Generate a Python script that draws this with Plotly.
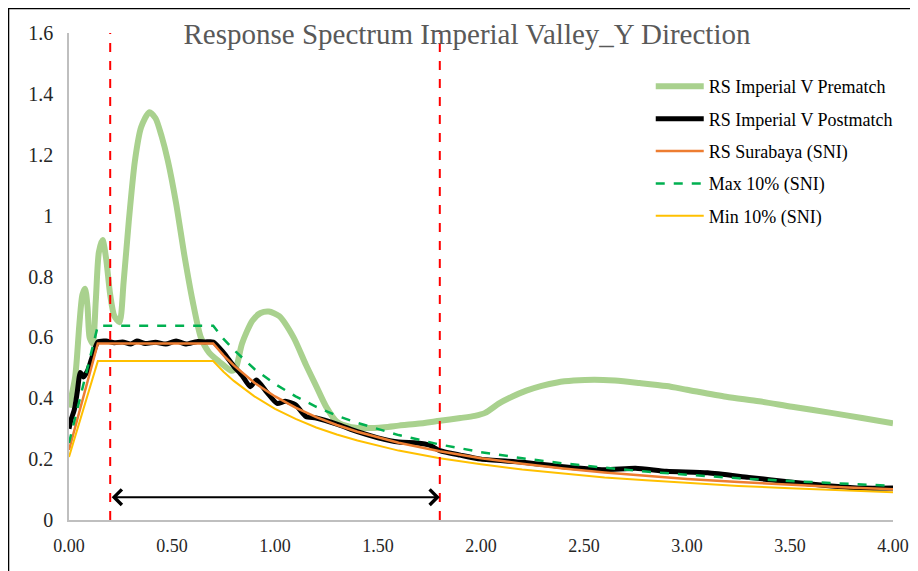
import plotly.graph_objects as go

# ---------------- data ----------------
T_PRE = [0.0, 0.03, 0.05, 0.065, 0.078, 0.09, 0.1, 0.115, 0.13, 0.145, 0.163, 0.18, 0.2, 0.22,
         0.245, 0.265, 0.29, 0.32, 0.35, 0.39, 0.42, 0.45, 0.48, 0.52, 0.56, 0.6, 0.64, 0.68,
         0.73, 0.79, 0.81, 0.84, 0.89, 0.93, 0.97, 1.02, 1.09, 1.15, 1.20, 1.25, 1.30, 1.37,
         1.45, 1.53, 1.6, 1.69, 1.8, 1.9, 1.97, 2.02, 2.09, 2.15, 2.22, 2.29, 2.37, 2.45, 2.55,
         2.65, 2.77, 2.9, 3.0, 3.19, 3.35, 3.51, 3.7, 3.85, 4.0]
SA_PRE = [0.37, 0.47, 0.64, 0.74, 0.76, 0.70, 0.60, 0.58, 0.72, 0.88, 0.92, 0.86, 0.74, 0.67,
          0.65, 0.78, 0.98, 1.18, 1.29, 1.34, 1.32, 1.26, 1.18, 1.04, 0.87, 0.72, 0.60, 0.55,
          0.52, 0.49, 0.50, 0.58, 0.655, 0.68, 0.685, 0.67, 0.60, 0.51, 0.44, 0.37, 0.323, 0.305,
          0.302, 0.305, 0.31, 0.316, 0.326, 0.335, 0.342, 0.352, 0.384, 0.405, 0.425, 0.44, 0.452,
          0.458, 0.461, 0.458, 0.45, 0.44, 0.428, 0.405, 0.39, 0.372, 0.352, 0.335, 0.318]

T_POST = [0.0, 0.01, 0.025, 0.04, 0.055, 0.07, 0.09, 0.11, 0.14, 0.18, 0.22, 0.26, 0.3, 0.33,
          0.37, 0.42, 0.47, 0.52, 0.57, 0.62, 0.66, 0.7, 0.75, 0.8, 0.84, 0.88, 0.91, 0.96, 1.01,
          1.05, 1.1, 1.15, 1.2, 1.3, 1.4, 1.5, 1.6, 1.69, 1.75, 1.8, 1.9, 2.0, 2.2, 2.4, 2.6,
          2.75, 2.9, 3.1, 3.3, 3.5, 3.7, 3.85, 4.0]
SA_POST = [0.30, 0.33, 0.36, 0.42, 0.485, 0.47, 0.49, 0.53, 0.585, 0.588, 0.582, 0.585, 0.578,
           0.588, 0.58, 0.584, 0.578, 0.588, 0.578, 0.586, 0.585, 0.585, 0.55, 0.505, 0.475,
           0.438, 0.46, 0.42, 0.383, 0.39, 0.378, 0.34, 0.335, 0.315, 0.29, 0.27, 0.256, 0.253,
           0.246, 0.228, 0.213, 0.2, 0.19, 0.175, 0.165, 0.17, 0.16, 0.155, 0.14, 0.125, 0.112,
           0.105, 0.105]

T_SNI = [0.0, 0.14, 0.7, 0.75, 0.8, 0.9, 1.0, 1.1, 1.2, 1.3, 1.4, 1.5, 1.6, 1.8, 2.0, 2.2,
         2.4, 2.6, 2.8, 3.0, 3.25, 3.5, 3.75, 4.0]
SA_SNI = [0.23, 0.58, 0.58, 0.541, 0.508, 0.451, 0.406, 0.369, 0.338, 0.312, 0.29, 0.271,
          0.254, 0.226, 0.203, 0.185, 0.169, 0.156, 0.145, 0.135, 0.125, 0.116, 0.108, 0.101]
SA_MAX = [0.253, 0.638, 0.638, 0.595, 0.559, 0.496, 0.447, 0.406, 0.372, 0.343, 0.319, 0.298,
          0.279, 0.248, 0.223, 0.203, 0.186, 0.172, 0.159, 0.149, 0.137, 0.128, 0.119, 0.112]
SA_MIN = [0.207, 0.522, 0.522, 0.487, 0.457, 0.406, 0.365, 0.332, 0.304, 0.281, 0.261, 0.244,
          0.228, 0.203, 0.183, 0.166, 0.152, 0.14, 0.131, 0.122, 0.112, 0.104, 0.097, 0.091]

RANGE_T = [0.2, 1.8]
ARROW_Y = 0.075

X_TICKS = [0, 0.5, 1, 1.5, 2, 2.5, 3, 3.5, 4]
X_TICKTEXT = ["0.00", "0.50", "1.00", "1.50", "2.00", "2.50", "3.00", "3.50", "4.00"]
Y_TICKS = [0, 0.2, 0.4, 0.6, 0.8, 1.0, 1.2, 1.4, 1.6]
Y_TICKTEXT = ["0", "0.2", "0.4", "0.6", "0.8", "1", "1.2", "1.4", "1.6"]

TITLE = "Response Spectrum Imperial Valley_Y Direction"
FONT = "Liberation Serif, Times New Roman, serif"

# ---------------- figure ----------------
fig = go.Figure()
fig.add_trace(go.Scatter(x=T_PRE, y=SA_PRE, mode="lines", name="RS Imperial V Prematch",
                         legendgroup="a", line=dict(color="#A9D18E", width=6, shape="spline", smoothing=0.7)))
fig.add_trace(go.Scatter(x=T_POST, y=SA_POST, mode="lines", name="RS Imperial V Postmatch",
                         legendgroup="b", line=dict(color="#000000", width=5, shape="spline", smoothing=0.6)))
fig.add_trace(go.Scatter(x=T_SNI, y=SA_SNI, mode="lines", name="RS Surabaya (SNI)",
                         legendgroup="c", line=dict(color="#ED7D31", width=2.5)))
fig.add_trace(go.Scatter(x=T_SNI, y=SA_MAX, mode="lines", name="Max 10% (SNI)",
                         legendgroup="d", line=dict(color="#00B050", width=2.5, dash="dash")))
fig.add_trace(go.Scatter(x=T_SNI, y=SA_MIN, mode="lines", name="Min 10% (SNI)",
                         legendgroup="e", line=dict(color="#FFC000", width=2)))

for t in RANGE_T:
    fig.add_shape(type="line", xref="x", yref="y", x0=t, x1=t, y0=0, y1=1.6,
                  line=dict(color="#FF0000", width=2, dash="dash"))

fig.add_annotation(x=RANGE_T[1], y=ARROW_Y, ax=RANGE_T[0], ay=ARROW_Y, xref="x", yref="y",
                   axref="x", ayref="y", text="", showarrow=True, arrowside="end+start",
                   arrowhead=4, startarrowhead=4, arrowsize=1.5, startarrowsize=1.5,
                   arrowwidth=2, arrowcolor="#000000")

# outer frame (left and top edges visible)
fig.add_shape(type="line", xref="paper", yref="paper", x0=-0.074, x1=-0.074, y0=-0.2, y1=1.0513,
              line=dict(color="#000000", width=2.5))
fig.add_shape(type="line", xref="paper", yref="paper", x0=-0.074, x1=1.1, y0=1.0513, y1=1.0513,
              line=dict(color="#000000", width=2.5))

fig.update_layout(
    width=918, height=571,
    margin=dict(l=61, r=33, t=25, b=59),
    paper_bgcolor="white", plot_bgcolor="white",
    title=dict(text=TITLE, x=459 / 918, xanchor="center", y=1 - 26 / 571, yanchor="middle",
               font=dict(family=FONT, size=29, color="#595959")),
    legend=dict(x=0.706, y=0.928, xanchor="left", yanchor="top", bgcolor="rgba(0,0,0,0)",
                font=dict(family=FONT, size=18, color="#000000"), tracegroupgap=6, itemwidth=48),
    showlegend=True,
)
fig.update_xaxes(range=[0, 4], tickvals=X_TICKS, ticktext=X_TICKTEXT, showgrid=False,
                 zeroline=False, showline=True, linecolor="#BFBFBF", linewidth=1.5,
                 ticks="", ticklabelstandoff=9,
                 tickfont=dict(family=FONT, size=18, color="#262626"))
fig.update_yaxes(range=[0, 1.6], tickvals=Y_TICKS, ticktext=Y_TICKTEXT, showgrid=False,
                 zeroline=False, showline=True, linecolor="#BFBFBF", linewidth=1.5,
                 ticks="", ticklabelstandoff=10,
                 tickfont=dict(family=FONT, size=20, color="#262626"))

fig.write_html("out.html")
